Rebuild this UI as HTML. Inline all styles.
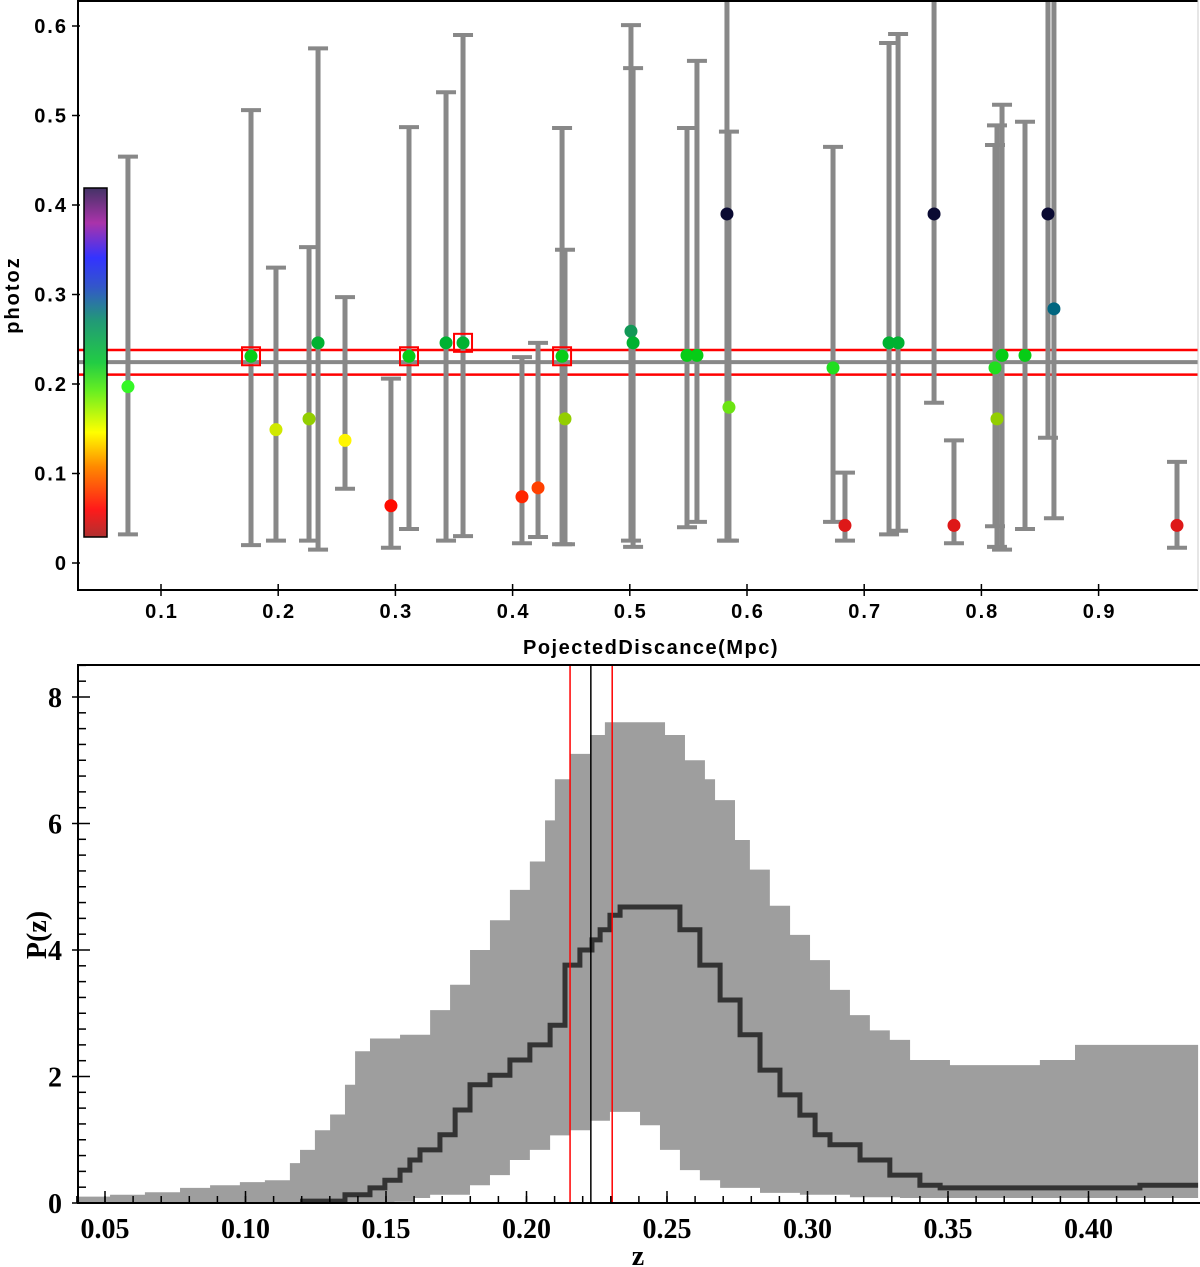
<!DOCTYPE html>
<html><head><meta charset="utf-8"><style>
html,body{margin:0;padding:0;background:#fff;width:1200px;height:1267px;overflow:hidden}
svg{display:block}
.tk{font-family:"Liberation Sans",sans-serif;font-weight:bold;font-size:20px;letter-spacing:2px}
.sf{font-family:"Liberation Serif",serif;font-weight:bold;font-size:28px}
</style></head><body>
<svg id="chart" width="1200" height="1267" xmlns="http://www.w3.org/2000/svg"></svg>
<script>
// ---- top chart data ----
const dist = [0.0718,0.1768,0.1981,0.2263,0.2340,0.2570,0.2962,0.3116,0.3432,0.3577,0.4080,0.4217,0.4422,0.4447,0.5010,0.5028,0.5488,0.5573,0.5829,0.5846,0.6734,0.6836,0.7212,0.7289,0.7596,0.7766,0.8116,0.8133,0.8176,0.8372,0.8568,0.8619,0.9669];
const photoz = [0.197,0.231,0.149,0.161,0.246,0.137,0.064,0.231,0.246,0.246,0.074,0.084,0.231,0.161,0.259,0.246,0.232,0.232,0.390,0.174,0.218,0.042,0.246,0.246,0.390,0.042,0.218,0.161,0.232,0.232,0.390,0.284,0.042];
const errHi = [0.454,0.506,0.330,0.353,0.575,0.297,0.206,0.487,0.526,0.590,0.230,0.246,0.486,0.350,0.601,0.553,0.486,0.561,0.700,0.482,0.465,0.101,0.581,0.591,0.700,0.137,0.467,0.489,0.512,0.493,0.700,0.700,0.113];
const errLo = [0.032,0.020,0.025,0.025,0.015,0.083,0.017,0.038,0.025,0.030,0.022,0.029,0.021,0.021,0.025,0.018,0.040,0.046,0.025,0.025,0.046,0.025,0.032,0.036,0.179,0.022,0.041,0.018,0.015,0.038,0.140,0.050,0.017];
const boxed = [1,7,9,12];
const xTicksTop = [0.1,0.2,0.3,0.4,0.5,0.6,0.7,0.8,0.9];
const yTicksTop = [0,0.1,0.2,0.3,0.4,0.5,0.6];
const yTickLabelsTop = ["0","0.1","0.2","0.3","0.4","0.5","0.6"];
const clusterZ = 0.2245, clusterLo = 0.2105, clusterHi = 0.238;
// ---- bottom chart data ----
const upZ = [0.0404,0.0482,0.0518,0.0642,0.0767,0.0874,0.0980,0.1069,0.1158,0.1194,0.1247,0.1301,0.1354,0.1390,0.1443,0.1550,0.1657,0.1728,0.1799,0.1870,0.1941,0.2012,0.2066,0.2101,0.2155,0.2226,0.2279,0.2315,0.2457,0.2493,0.2564,0.2635,0.2671,0.2742,0.2795,0.2866,0.2938,0.3009,0.3080,0.3151,0.3222,0.3293,0.3365,0.3507,0.3685,0.3827,0.3952,0.4041,0.4390];
const upP = [0.1,0.1,0.13,0.17,0.24,0.28,0.33,0.36,0.63,0.84,1.15,1.4,1.87,2.4,2.6,2.66,3.05,3.45,4.0,4.47,4.95,5.4,6.05,6.7,7.1,7.4,7.6,7.6,7.6,7.4,7.0,6.7,6.37,5.74,5.27,4.7,4.24,3.84,3.37,2.97,2.73,2.58,2.26,2.18,2.18,2.26,2.5,2.5,2.5];
const loZ = [0.0404,0.153,0.160,0.1657,0.1799,0.187,0.1941,0.2012,0.2084,0.2155,0.2226,0.2297,0.235,0.2404,0.2475,0.2546,0.2617,0.2689,0.2831,0.2973,0.3151,0.3329,0.439];
const loP = [0,0.02,0.08,0.13,0.28,0.44,0.68,0.84,1.07,1.15,1.3,1.44,1.44,1.23,0.84,0.52,0.36,0.24,0.16,0.13,0.09,0.08,0.08];
const medZ = [0.1194,0.1319,0.1354,0.1443,0.1496,0.1550,0.1585,0.1621,0.1692,0.1746,0.1799,0.1870,0.1941,0.2012,0.2084,0.2137,0.2190,0.2233,0.2262,0.2297,0.2333,0.2475,0.2546,0.2617,0.2689,0.2760,0.2831,0.2902,0.2973,0.3027,0.3080,0.3187,0.3293,0.3400,0.3472,0.4148,0.4183,0.439];
const medP = [0.03,0.03,0.13,0.24,0.36,0.52,0.68,0.84,1.08,1.47,1.87,2.02,2.26,2.5,2.81,3.76,4.0,4.16,4.32,4.55,4.68,4.68,4.32,3.76,3.21,2.66,2.1,1.71,1.39,1.08,0.92,0.68,0.44,0.28,0.24,0.24,0.28,0.28];
const xTicksBot = [0.05,0.10,0.15,0.20,0.25,0.30,0.35,0.40];
const xTickLabelsBot = ["0.05","0.10","0.15","0.20","0.25","0.30","0.35","0.40"];
const yTicksBot = [0,2,4,6,8];
const zLow = 0.2155, zMid = 0.2229, zHigh = 0.2305;

const svgEl = document.getElementById('chart');
const NS = 'http://www.w3.org/2000/svg';
function mk(tag, attrs, parent){const e=document.createElementNS(NS,tag);for(const k in attrs)e.setAttribute(k,attrs[k]);(parent||svgEl).appendChild(e);return e;}

// top axes
const tx = v => 43.8 + v*1172;
const ty = v => 563 - v*895;
const gTop = mk('g',{});


const defs = mk('defs',{});
const clipT = mk('clipPath',{id:'ct'},defs); mk('rect',{x:78,y:0,width:1120,height:590},clipT);
const clipB = mk('clipPath',{id:'cbp'},defs); mk('rect',{x:78,y:665,width:1122,height:538},clipB);
const lg = mk('linearGradient',{id:'cb',x1:0,y1:1,x2:0,y2:0},defs);
[['0','#b03030'],['0.08','#ff1a1a'],['0.2','#ff8800'],['0.3','#ffff00'],['0.42','#66ee22'],['0.5','#22cc44'],['0.62','#229977'],['0.72','#3355cc'],['0.8','#3333ff'],['0.9','#aa33aa'],['1','#443366']].forEach(s=>mk('stop',{offset:s[0],'stop-color':s[1]},lg));
const plotT = mk('g',{'clip-path':'url(#ct)'},gTop);
const cbar = mk('rect',{x:84,y:188,width:23,height:349,fill:'url(#cb)',stroke:'#000','stroke-width':1.5},gTop);


const hg = mk('line',{x1:78,x2:1198,y1:ty(clusterZ),y2:ty(clusterZ),stroke:'#888','stroke-width':4},plotT);


[clusterLo,clusterHi].forEach(v=>{const l=mk('line',{x1:78,x2:1198,y1:ty(v),y2:ty(v),stroke:'#f00','stroke-width':2.5},plotT);

});
function zcol(z){
  const st=[[0.03,[200,40,40]],[0.06,[255,0,0]],[0.09,[255,80,0]],[0.14,[255,255,0]],[0.16,[150,204,0]],[0.19,[60,255,40]],[0.22,[30,220,30]],[0.235,[0,200,20]],[0.25,[0,170,60]],[0.26,[20,150,90]],[0.285,[0,100,130]],[0.39,[10,10,50]],[0.5,[10,10,50]]];
  for(let i=0;i<st.length-1;i++){if(z<=st[i+1][0]){const t=Math.max(0,(z-st[i][0])/(st[i+1][0]-st[i][0]));const c=st[i][1].map((a,j)=>Math.round(a+(st[i+1][1][j]-a)*t));return 'rgb('+c.join(',')+')';}}
  return 'rgb(10,10,50)';
}
dist.forEach((d,i)=>{
  const x=tx(d);
  const eb=mk('g',{},plotT);
  
  
  mk('line',{x1:x,x2:x,y1:ty(errHi[i]),y2:ty(errLo[i]),stroke:'#888','stroke-width':5},eb);
  mk('line',{x1:x-10,x2:x+10,y1:ty(errHi[i]),y2:ty(errHi[i]),stroke:'#888','stroke-width':4},eb);
  mk('line',{x1:x-10,x2:x+10,y1:ty(errLo[i]),y2:ty(errLo[i]),stroke:'#888','stroke-width':4},eb);
});
dist.forEach((d,i)=>{
  const p=mk('circle',{cx:tx(d),cy:ty(photoz[i]),r:6.5,fill:zcol(photoz[i])},plotT);
  
  
});
boxed.forEach(i=>{
  const b=mk('rect',{x:tx(dist[i])-9,y:ty(photoz[i])-9,width:18,height:18,fill:'none',stroke:'#f00','stroke-width':2},plotT);
  
  
});
mk('polyline',{points:'1198,1 78,1 78,590 1198,590',fill:'none',stroke:'#000','stroke-width':2},gTop);
mk('line',{x1:1198,x2:1198,y1:0,y2:590,stroke:'#ccc','stroke-width':1},gTop);
yTicksTop.forEach((v,i)=>{
  mk('line',{x1:72,x2:80,y1:ty(v),y2:ty(v),stroke:'#000','stroke-width':1.5},gTop);
  const t=mk('text',{x:68,y:ty(v)+7,'text-anchor':'end',class:'tk'},gTop);t.textContent=yTickLabelsTop[i];
  
  
});
xTicksTop.forEach(v=>{
  mk('line',{x1:tx(v),x2:tx(v),y1:584,y2:596,stroke:'#000','stroke-width':1.5},gTop);
  const t=mk('text',{x:tx(v)+1,y:618,'text-anchor':'middle',class:'tk'},gTop);t.textContent=v.toFixed(1);
  
  
});
const t1=mk('text',{x:651,y:654,'text-anchor':'middle',class:'tk',style:'letter-spacing:1.5px'},gTop);t1.textContent='PojectedDiscance(Mpc)';


const t2=mk('text',{x:0,y:0,'text-anchor':'middle',class:'tk',transform:'translate(19,295) rotate(-90)'},gTop);t2.textContent='photoz';



// bottom axes
const bx = z => -35.5 + z*2810;
const by = p => 1203 - p*63.25;
const gB = mk('g',{});


const plotB = mk('g',{'clip-path':'url(#cbp)'},gB);
function stepPts(zs,ps){const s=[];for(let i=0;i<zs.length;i++){if(i>0)s.push(bx(zs[i])+','+by(ps[i-1]));s.push(bx(zs[i])+','+by(ps[i]));}return s;}
const topPts=stepPts(upZ,upP), botPts=stepPts(loZ,loP).reverse();
const band=mk('polygon',{points:topPts.concat(botPts).join(' '),fill:'#9e9e9e'},plotB);


const med=mk('polyline',{points:stepPts(medZ,medP).join(' '),fill:'none',stroke:'#333','stroke-width':5},plotB);


[[zLow,'#f00'],[zMid,'#000'],[zHigh,'#f00']].forEach(a=>{
  const l=mk('line',{x1:bx(a[0]),x2:bx(a[0]),y1:665,y2:1203,stroke:a[1],'stroke-width':1.5},plotB);
  
  
});
mk('polyline',{points:'1200,665 78,665 78,1203 1200,1203',fill:'none',stroke:'#000','stroke-width':2},gB);
for(let k=4;k<=44;k++){const z=k/100;mk('line',{x1:bx(z),x2:bx(z),y1:1196,y2:1203,stroke:'#000','stroke-width':1.5},gB);}
for(let k=0;k<=34;k++){const p=k*0.25;mk('line',{x1:78,x2:(k%8==0)?90:86,y1:by(p),y2:by(p),stroke:'#000','stroke-width':1.5},gB);}
xTicksBot.forEach((v,i)=>{
  mk('line',{x1:bx(v),x2:bx(v),y1:1191,y2:1203,stroke:'#000','stroke-width':1.5},gB);
  const t=mk('text',{x:bx(v),y:1238,'text-anchor':'middle',class:'sf'},gB);t.textContent=xTickLabelsBot[i];
  
  
});
yTicksBot.forEach(v=>{
  mk('line',{x1:72,x2:78,y1:by(v),y2:by(v),stroke:'#000','stroke-width':1.5},gB);
  const t=mk('text',{x:62,y:by(v)+10,'text-anchor':'end',class:'sf'},gB);t.textContent=String(v);
  
  
});
const t3=mk('text',{x:638,y:1265,'text-anchor':'middle',class:'sf'},gB);t3.textContent='z';


const t4=mk('text',{x:0,y:0,'text-anchor':'middle',class:'sf',transform:'translate(46,935) rotate(-90)'},gB);t4.textContent='P(z)';


</script>
</body></html>
